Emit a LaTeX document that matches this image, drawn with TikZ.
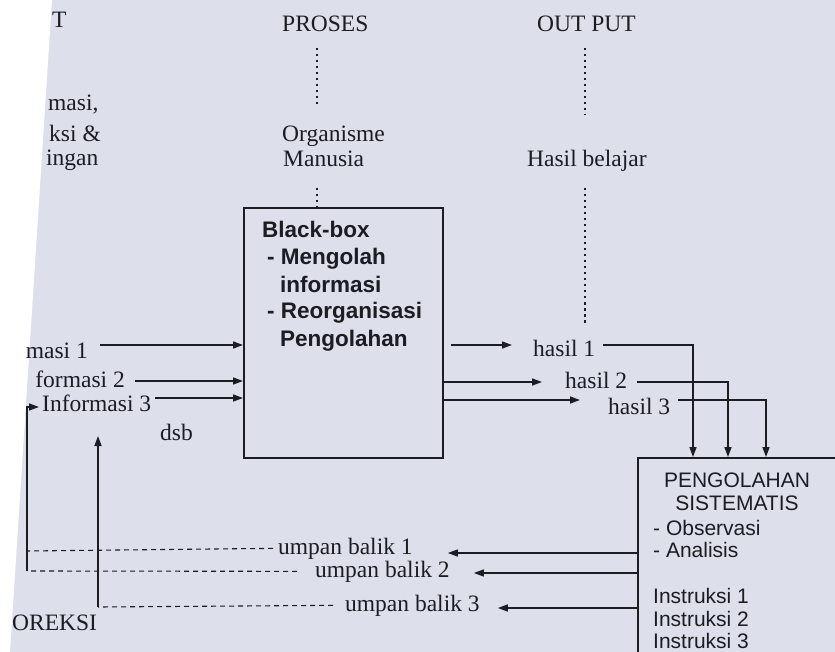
\documentclass[tikz,border=0pt]{standalone}
\usepackage{fontspec}
\setmainfont{Liberation Serif}
\newfontfamily\kotakfont{Liberation Sans}
\usepackage{tikz}
\usetikzlibrary{arrows.meta,calc}

\definecolor{kertas}{RGB}{221,224,234}
\definecolor{tinta}{RGB}{28,28,34}

\begin{document}
\begin{tikzpicture}[x=1pt,y=-1pt,
    lbl/.style={inner sep=0pt, text=tinta, font=\fontsize{23.5}{26}\selectfont},
    bblbl/.style={inner sep=0pt, text=tinta, font=\kotakfont\bfseries\fontsize{22.5}{27}\selectfont},
    sislbl/.style={inner sep=0pt, text=tinta, font=\kotakfont\fontsize{21}{23}\selectfont},
    kotak/.style={draw=tinta, line width=1.7pt, inner sep=0pt},
    panah/.style={draw=tinta, line width=1.5pt, -{Triangle[length=10pt,width=7pt]}},
    titik/.style={draw=tinta, line width=1.6pt, dash pattern=on 2.5pt off 3.5pt},
    putus/.style={draw=tinta, line width=1.1pt, dash pattern=on 5pt off 4pt}]
        % halaman hasil pindai
        \useasboundingbox (0,0) rectangle (835,652);
        \clip (0,0) rectangle (835,652);
        \fill[kertas] (0,0) rectangle (835,652);
        \fill[white] (0,0) -- (52,0) -- (10,652) -- (0,652) -- cycle;

        % judul kolom
        \node[lbl, anchor=base west] (input) at (52,28) {T};
        \node[lbl, anchor=base west] (proses) at (282,32) {PROSES};
        \node[lbl, anchor=base west] (output) at (537,32) {OUT PUT};

        \node[lbl, anchor=base west] (inA) at (48,111) {masi,};
        \node[lbl, anchor=base west] (inB) at (49,142) {ksi \&};
        \node[lbl, anchor=base west] (inC) at (46,166) {ingan};
        \node[lbl, anchor=base west] (org) at (282,142) {Organisme};
        \node[lbl, anchor=base west] (manusia) at (283,167) {Manusia};
        \node[lbl, anchor=base west] (hasil) at (527,167) {Hasil belajar};

        \coordinate (p1) at (317,48);  \coordinate (p2) at (317,104);
        \coordinate (p3) at (317,188);
        \coordinate (o1) at (585,48);  \coordinate (o2) at (585,115);
        \coordinate (o3) at (585,188); \coordinate (o4) at (585,325);

        % black-box
        \node[kotak, minimum width=199pt, minimum height=250pt, anchor=north west] (bbox) at (243,207) {};
        \node[bblbl, anchor=base west] (bb1) at (262,238) {Black-box};
        \node[bblbl, anchor=base west] (bb2) at (267,265) {- Mengolah};
        \node[bblbl, anchor=base west] (bb3) at (280,292) {informasi};
        \node[bblbl, anchor=base west] (bb4) at (267,319) {- Reorganisasi};
        \node[bblbl, anchor=base west] (bb5) at (280,346) {Pengolahan};

        \draw[titik] (p1) -- (p2);
        \draw[titik] (p3) -- (bbox.north -| p3);
        \draw[titik] (o1) -- (o2);
        \draw[titik] (o3) -- (o4);

        % masukan
        \node[lbl, anchor=base east] (in1) at (88,358) {masi 1};
        \node[lbl, anchor=base east] (in2) at (125,387) {formasi 2};
        \node[lbl, anchor=base west] (in3) at (42,411) {Informasi 3};
        \node[lbl, anchor=base west] (dsb) at (160,440) {dsb};

        \coordinate (y1) at (0,345);
        \coordinate (y2) at (0,381);
        \coordinate (y3) at (0,398);
        \draw[panah] ($(in1.east |- y1)+(12,0)$) -- (bbox.west |- y1);
        \draw[panah] ($(in2.east |- y2)+(10,0)$) -- (bbox.west |- y2);
        \draw[panah] ($(in3.east |- y3)+(4,0)$) -- (bbox.west |- y3);

        % keluaran
        \node[lbl, anchor=base west] (h1) at (533,356) {hasil 1};
        \node[lbl, anchor=base west] (h2) at (565,388) {hasil 2};
        \node[lbl, anchor=base west] (h3) at (608,414) {hasil 3};

        \coordinate (y4) at (0,345);
        \coordinate (y5) at (0,382);
        \coordinate (y6) at (0,400);
        \draw[panah] ($(bbox.east |- y4)+(7,0)$) -- ($(h1.west |- y4)+(-21,0)$);
        \draw[panah] (bbox.east |- y5) -- ($(h2.west |- y5)+(-23,0)$);
        \draw[panah] (bbox.east |- y6) -- ($(h3.west |- y6)+(-28,0)$);

        % pengolahan sistematis
        \node[kotak, minimum width=240pt, minimum height=240pt, anchor=north west] (olah) at (637,457) {};
        \node[sislbl, anchor=base] (judul1) at (737,487) {PENGOLAHAN};
        \node[sislbl, anchor=base] (judul2) at (737,510) {SISTEMATIS};
        \foreach \teks/\y [count=\i] in {{- Observasi}/535, {- Analisis}/557,
            {Instruksi 1}/603, {Instruksi 2}/626, {Instruksi 3}/648}
            \node[sislbl, anchor=base west] (isi\i) at (653,\y) {\teks};

        \coordinate (t1) at ($(olah.north west)+(56,0)$);
        \coordinate (t2) at ($(olah.north west)+(91,0)$);
        \coordinate (t3) at ($(olah.north west)+(129,0)$);
        \draw[panah] ($(h1.east |- y4)+(8,0)$) -| (t1);
        \draw[panah] ($(h2.east |- y5)+(10,0)$) -| (t2);
        \draw[panah] ($(h3.east |- y6)+(8,0)$) -| (t3);

        % umpan balik
        \node[lbl, anchor=base west] (ub1) at (278,554) {umpan balik 1};
        \node[lbl, anchor=base west] (ub2) at (315,577) {umpan balik 2};
        \node[lbl, anchor=base west] (ub3) at (345,611) {umpan balik 3};

        \coordinate (y7) at (0,553);
        \coordinate (y8) at (0,573);
        \coordinate (y9) at (0,608);
        \draw[panah] (olah.west |- y7) -- ($(ub1.east |- y7)+(35,0)$);
        \draw[panah] (olah.west |- y8) -- ($(ub2.east |- y8)+(24,0)$);
        \draw[panah] (olah.west |- y9) -- ($(ub3.east |- y9)+(18,0)$);

        % koreksi
        \coordinate (k1) at (27,571);
        \coordinate (k1t) at (27,407);
        \coordinate (k2) at (98,607);
        \coordinate (k2t) at (98,436);
        \draw[putus] ($(ub1.west)+(-5,0)$ |- 0,551) -- (k1 |- 0,551);
        \draw[putus] ($(ub2.west)+(-18,0)$ |- 0,571) -- (k1);
        \draw[putus] ($(ub3.west)+(-12,0)$ |- 0,607) -- (k2);
        \draw[panah] (k1) -- (k1t) -- ($(in3.west |- k1t)+(-3,0)$);
        \draw[panah] (k2) -- (k2t);

        \node[lbl, anchor=base west] (koreksi) at (12,630) {OREKSI};
\end{tikzpicture}
\end{document}
